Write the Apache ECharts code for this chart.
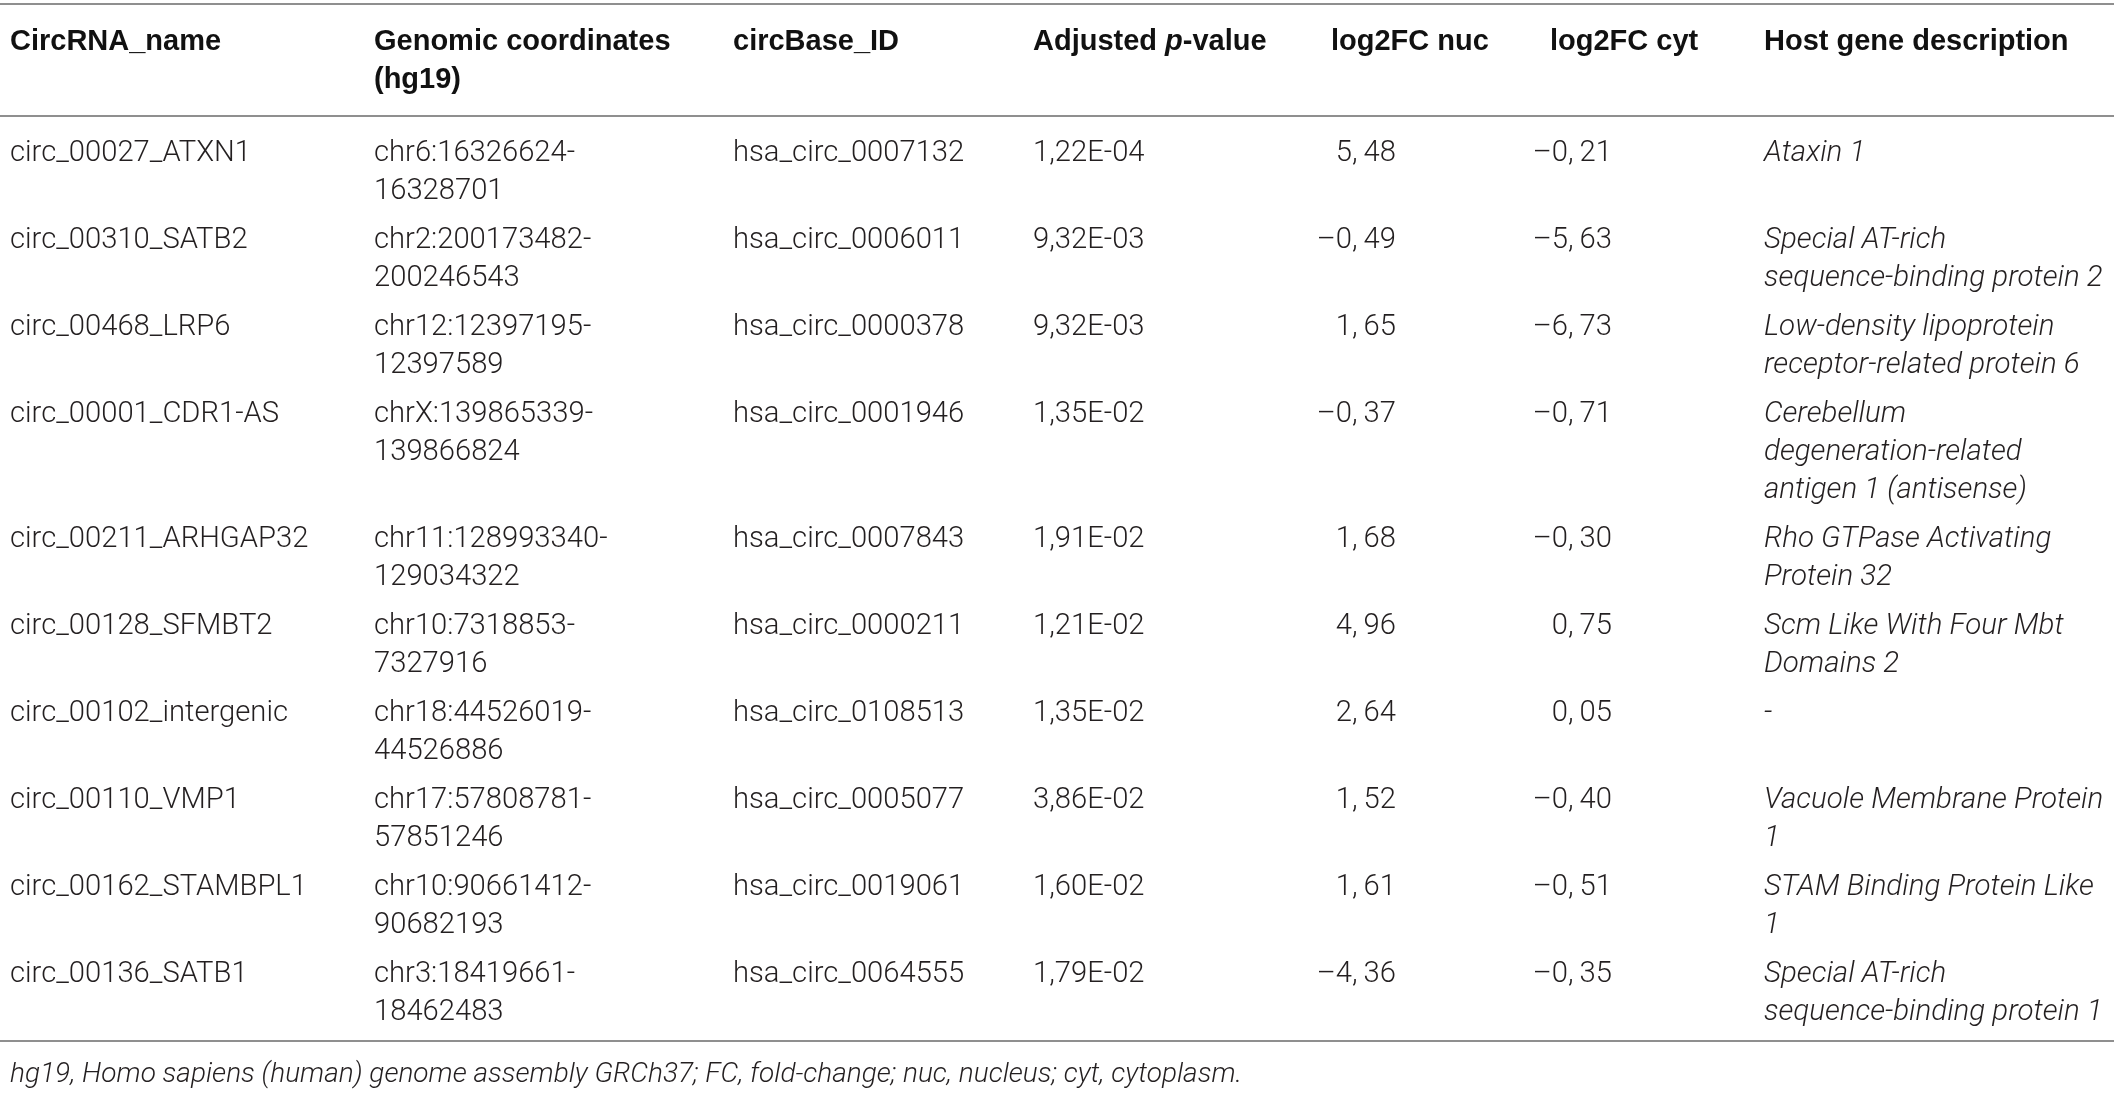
<!DOCTYPE html>
<html><head><meta charset="utf-8">
<script src="https://cdn.jsdelivr.net/npm/echarts@6/dist/echarts.min.js"></script>
<style>html,body{margin:0;padding:0;background:#fff}#c{width:2118px;height:1096px}</style>
</head><body><div id="c"></div>
<script>
// ---------- data ----------
const headers = ['CircRNA_name', 'Genomic coordinates\n(hg19)', 'circBase_ID', '{b|Adjusted }{bi|p}{b|-value}', 'log2FC nuc', 'log2FC cyt', 'Host gene description'];
const circNames = ['circ_00027_ATXN1', 'circ_00310_SATB2', 'circ_00468_LRP6', 'circ_00001_CDR1-AS', 'circ_00211_ARHGAP32', 'circ_00128_SFMBT2', 'circ_00102_intergenic', 'circ_00110_VMP1', 'circ_00162_STAMBPL1', 'circ_00136_SATB1'];
const genomicCoords = ['chr6:16326624-16328701', 'chr2:200173482-200246543', 'chr12:12397195-12397589', 'chrX:139865339-139866824', 'chr11:128993340-129034322', 'chr10:7318853-7327916', 'chr18:44526019-44526886', 'chr17:57808781-57851246', 'chr10:90661412-90682193', 'chr3:18419661-18462483'];
const circBaseIds = ['hsa_circ_0007132', 'hsa_circ_0006011', 'hsa_circ_0000378', 'hsa_circ_0001946', 'hsa_circ_0007843', 'hsa_circ_0000211', 'hsa_circ_0108513', 'hsa_circ_0005077', 'hsa_circ_0019061', 'hsa_circ_0064555'];
const adjPValues = ['1,22E-04', '9,32E-03', '9,32E-03', '1,35E-02', '1,91E-02', '1,21E-02', '1,35E-02', '3,86E-02', '1,60E-02', '1,79E-02'];
const log2FCnuc = [5.48, -0.49, 1.65, -0.37, 1.68, 4.96, 2.64, 1.52, 1.61, -4.36];
const log2FCcyt = [-0.21, -5.63, -6.73, -0.71, -0.30, 0.75, 0.05, -0.40, -0.51, -0.35];
const hostGenes = ['Ataxin 1', 'Special AT-rich\nsequence-binding protein 2', 'Low-density lipoprotein\nreceptor-related protein 6', 'Cerebellum\ndegeneration-related\nantigen 1 (antisense)', 'Rho GTPase Activating\nProtein 32', 'Scm Like With Four Mbt\nDomains 2', '-', 'Vacuole Membrane Protein\n1', 'STAM Binding Protein Like\n1', 'Special AT-rich\nsequence-binding protein 1'];
const footnote = 'hg19, Homo sapiens (human) genome assembly GRCh37; FC, fold-change; nuc, nucleus; cyt, cytoplasm.';

// ---------- layout ----------
const W = 2118, H = 1096;
const LINE = 38, PAD = 11;
const colX = [10, 374, 733, 1033, 1396, 1612, 1764];
const colAlign = ['left', 'left', 'left', 'left', 'right', 'right', 'left'];
const headerX = [10, 374, 733, 1033, 1331, 1550, 1764];
const headerTop = 23, firstRowTop = 135;
const ruleX0 = 0, ruleX1 = 2114;
const TXT = '#231f20';
const BODY_FONT = "300 29.2px Roboto, 'Liberation Sans', sans-serif";
const ITAL_FONT = "italic 300 29.5px Roboto, 'Liberation Sans', sans-serif";
const FOOT_FONT = "italic 300 28px Roboto, 'Liberation Sans', sans-serif";
const HEAD_FONT = "bold 29px 'Liberation Sans', Arial, sans-serif";

function fmtFC(v) {
  const s = Math.abs(v).toFixed(2).replace('.', ',\u2009');
  return (v < 0 ? '\u2013' : '') + s;
}
function splitCoord(c) {
  const i = c.indexOf('-');
  return c.slice(0, i + 1) + '\n' + c.slice(i + 1);
}
const rowCells = circNames.map((n, i) => [n, splitCoord(genomicCoords[i]), circBaseIds[i], adjPValues[i], fmtFC(log2FCnuc[i]), fmtFC(log2FCcyt[i]), hostGenes[i]]);
const rowLines = rowCells.map(r => Math.max(...r.map(t => t.split('\n').length)));
const rowTops = [];
let acc = firstRowTop;
rowLines.forEach(n => { rowTops.push(acc); acc += n * LINE + PAD; });
const bottomRule = acc - PAD + 9;
const headerRule = 116;
const topRule = 4;
const footTop = bottomRule + 15;

const chart = echarts.init(document.getElementById('c'), null, {renderer: 'canvas'});
chart.setOption({
  animation: false,
  backgroundColor: '#fff',
  grid: {left: 0, right: 0, top: 0, bottom: 0},
  xAxis: {type: 'value', min: 0, max: W, show: false},
  yAxis: {type: 'value', min: 0, max: H, inverse: true, show: false},
  series: [
    {
      type: 'custom', name: 'rules', clip: false, silent: true,
      data: [[ruleX0, topRule], [ruleX0, headerRule], [ruleX0, bottomRule]],
      renderItem: function (params, api) {
        const p0 = api.coord([api.value(0), api.value(1)]);
        const p1 = api.coord([ruleX1, api.value(1)]);
        return {type: 'line', shape: {x1: p0[0], y1: p0[1], x2: p1[0], y2: p1[1]}, style: {stroke: '#8f8f8f', lineWidth: 2}};
      }
    },
    {
      type: 'custom', name: 'header', clip: false, silent: true,
      data: headers.map((h, c) => [headerX[c], headerTop]),
      renderItem: function (params, api) {
        const c = params.dataIndex;
        const p = api.coord([api.value(0), api.value(1)]);
        return {type: 'text', x: p[0], y: p[1], style: {
          text: headers[c], font: HEAD_FONT, fill: '#111', align: 'left', verticalAlign: 'top', lineHeight: LINE,
          rich: {b: {font: HEAD_FONT, fill: '#111', lineHeight: LINE}, bi: {font: "italic " + HEAD_FONT, fill: '#111', lineHeight: LINE}}
        }};
      }
    },
    {
      type: 'custom', name: 'rows', clip: false, silent: true,
      data: rowTops.map((t, i) => [i, t]),
      renderItem: function (params, api) {
        const r = api.value(0);
        const cells = rowCells[r];
        const children = cells.map((txt, c) => {
          const p = api.coord([colX[c], api.value(1)]);
          return {type: 'text', x: p[0], y: p[1], style: {
            text: txt, font: c === 6 ? ITAL_FONT : BODY_FONT, fill: TXT,
            align: colAlign[c], verticalAlign: 'top', lineHeight: LINE
          }};
        });
        return {type: 'group', children: children};
      }
    },
    {
      type: 'custom', name: 'footnote', clip: false, silent: true,
      data: [[colX[0], footTop]],
      renderItem: function (params, api) {
        const p = api.coord([api.value(0), api.value(1)]);
        return {type: 'text', x: p[0], y: p[1], style: {text: footnote, font: FOOT_FONT, fill: TXT, align: 'left', verticalAlign: 'top', lineHeight: LINE}};
      }
    }
  ]
});
</script>
</body></html>
